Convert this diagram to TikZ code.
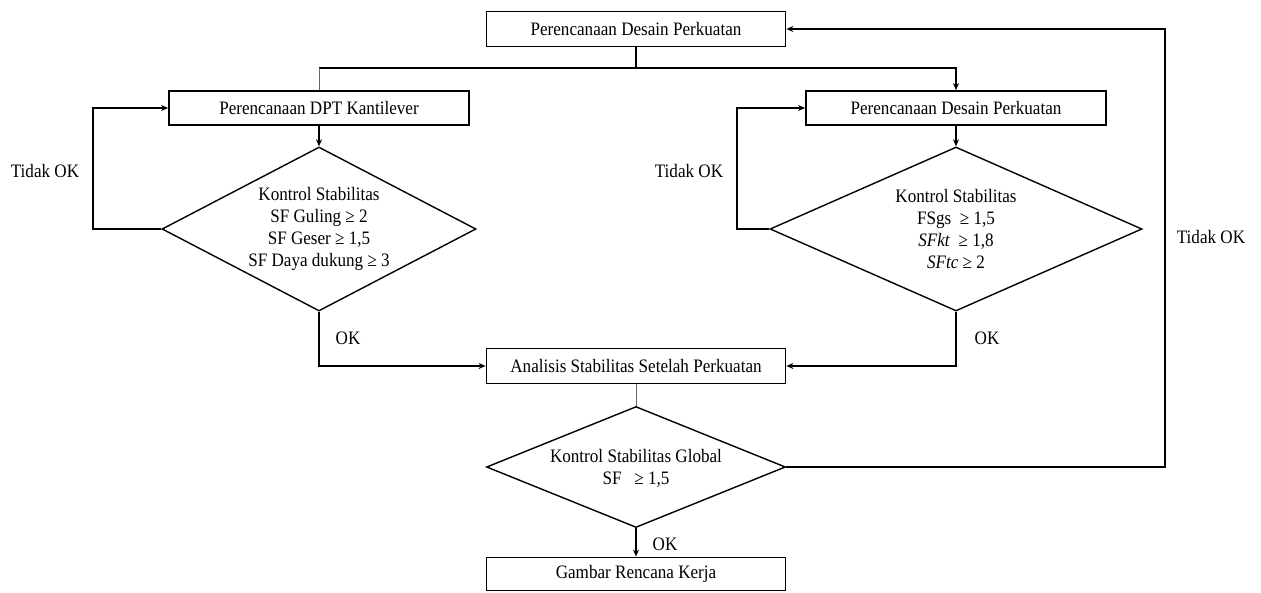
\documentclass[tikz,border=0pt]{standalone}
\usepackage{fontspec}
\setmainfont{Liberation Serif}[FakeStretch=0.9]
\usetikzlibrary{shapes.geometric,arrows.meta}
\begin{document}
\begin{tikzpicture}[x=1pt,y=-1pt,
  every node/.style={font=\fontsize{19}{22}\selectfont},
  box/.style={draw,line width=1.8pt,rectangle,inner sep=0pt,minimum height=35pt},
  dia/.style={draw,line width=1.4pt,diamond,inner sep=0pt},
  txt/.style={align=center,inner sep=0pt},
  lbl/.style={inner sep=0pt},
  conn/.style={line width=1.7pt},
  arr/.style={line width=1.7pt,-{Stealth[length=7pt,width=6pt]}},
  thinline/.style={line width=0.6pt,black!60}]
\useasboundingbox (0,0) rectangle (1261,592);

\node[box,minimum width=299pt] (top) at (636,29) {Perencanaan Desain Perkuatan};
\node[box,minimum width=300pt,minimum height=34pt] (b1) at (319,108) {Perencanaan DPT Kantilever};
\node[box,minimum width=300pt,minimum height=34pt] (b2) at (956,108) {Perencanaan Desain Perkuatan};

\node[dia,minimum width=314pt,minimum height=164pt] (d1) at (319,229) {};
\node[txt] at (d1) {Kontrol Stabilitas\\SF Guling ≥ 2\\SF Geser ≥ 1,5\\SF Daya dukung ≥ 3};
\node[dia,minimum width=372pt,minimum height=164pt] (d2) at (956,229) {};
\node[txt] at (d2) {Kontrol Stabilitas\\FSgs \ ≥ 1,5\\\textit{SFkt} \ ≥ 1,8\\\textit{SFtc} ≥ 2};

\node[box,minimum width=299pt] (an) at (636,366) {Analisis Stabilitas Setelah Perkuatan};
\node[dia,minimum width=299pt,minimum height=121pt] (d3) at (636,467) {};
\node[txt] at ([yshift=-1pt]d3) {Kontrol Stabilitas Global\\SF \ \ ≥ 1,5};
\node[box,minimum width=299pt,minimum height=33pt] (fin) at (636,574) {Gambar Rencana Kerja};

\node[lbl] (t1) at (45,171) {Tidak OK};
\node[lbl] (t2) at (689,171) {Tidak OK};
\node[lbl] (t3) at (1211,237) {Tidak OK};
\node[lbl] (ok1) at (348,338) {OK};
\node[lbl] (ok2) at (987,338) {OK};
\node[lbl] (ok3) at (665,544) {OK};

\coordinate (sp) at (636,68);
\coordinate (spL) at (319,68);
\draw[conn] (top.south) -- (sp);
\draw[arr] (sp) -| (b2.north);
\draw[conn] (sp) -- (spL);
\draw[thinline] (spL) -- (b1.north);

\draw[arr] (b1.south) -- (d1.north);
\draw[arr] (b2.south) -- (d2.north);
\draw[arr] (d1.west) -- ++(-68,0) |- (b1.west);
\draw[arr] (d2.west) -- ++(-32,0) |- (b2.west);
\draw[arr] (d1.south) |- (an.west);
\draw[arr] (d2.south) |- (an.east);
\draw[thinline] (an.south) -- (d3.north);
\draw[arr] (d3.east) -- ++(379,0) |- (top.east);
\draw[arr] (d3.south) -- (fin.north);
\end{tikzpicture}
\end{document}
